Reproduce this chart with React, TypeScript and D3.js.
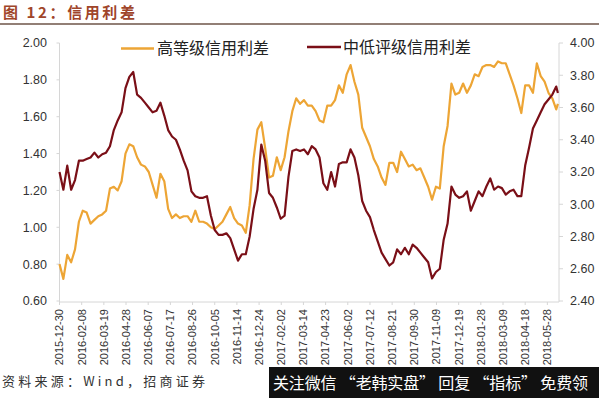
import React from "react";
import * as d3 from "d3";

const dates = [
  "2015-12-30","2016-01-06","2016-01-13","2016-01-20","2016-01-27","2016-02-03","2016-02-10","2016-02-17","2016-02-24","2016-03-02",
  "2016-03-09","2016-03-16","2016-03-23","2016-03-30","2016-04-06","2016-04-13","2016-04-20","2016-04-27","2016-05-04","2016-05-11",
  "2016-05-18","2016-05-25","2016-06-01","2016-06-08","2016-06-15","2016-06-22","2016-06-29","2016-07-06","2016-07-13","2016-07-20",
  "2016-07-27","2016-08-03","2016-08-10","2016-08-17","2016-08-24","2016-08-31","2016-09-07","2016-09-14","2016-09-21","2016-09-28",
  "2016-10-05","2016-10-12","2016-10-19","2016-10-26","2016-11-02","2016-11-09","2016-11-16","2016-11-23","2016-11-30","2016-12-07",
  "2016-12-14","2016-12-21","2016-12-28","2017-01-04","2017-01-11","2017-01-18","2017-01-25","2017-02-01","2017-02-08","2017-02-15",
  "2017-02-22","2017-03-01","2017-03-08","2017-03-15","2017-03-22","2017-03-29","2017-04-05","2017-04-12","2017-04-19","2017-04-26",
  "2017-05-03","2017-05-10","2017-05-17","2017-05-24","2017-05-31","2017-06-07","2017-06-14","2017-06-21","2017-06-28","2017-07-05",
  "2017-07-12","2017-07-19","2017-07-26","2017-08-02","2017-08-09","2017-08-16","2017-08-23","2017-08-30","2017-09-06","2017-09-13",
  "2017-09-20","2017-09-27","2017-10-04","2017-10-11","2017-10-18","2017-10-25","2017-11-01","2017-11-08","2017-11-15","2017-11-22",
  "2017-11-29","2017-12-06","2017-12-13","2017-12-20","2017-12-27","2018-01-03","2018-01-10","2018-01-17","2018-01-24","2018-01-31",
  "2018-02-07","2018-02-14","2018-02-21","2018-02-28","2018-03-07","2018-03-14","2018-03-21","2018-03-28","2018-04-04","2018-04-11",
  "2018-04-18","2018-04-25","2018-05-02","2018-05-09","2018-05-16","2018-05-23","2018-05-30","2018-06-06","2018-06-13","2018-06-16",
];

// 高等级信用利差 (left axis)
const highGrade = [
  0.80,0.72,0.85,0.81,0.88,1.03,1.09,1.08,1.02,1.04,
  1.06,1.07,1.09,1.21,1.22,1.20,1.25,1.40,1.45,1.44,
  1.38,1.34,1.33,1.30,1.23,1.16,1.29,1.25,1.10,1.05,
  1.07,1.05,1.06,1.06,1.03,1.09,1.03,1.03,1.02,1.00,
  0.99,1.01,1.03,1.07,1.11,1.05,1.02,1.01,0.97,1.12,
  1.37,1.53,1.57,1.43,1.27,1.28,1.38,1.31,1.38,1.52,
  1.63,1.70,1.67,1.69,1.66,1.66,1.63,1.58,1.57,1.66,
  1.66,1.69,1.77,1.73,1.83,1.88,1.79,1.72,1.54,1.49,
  1.44,1.37,1.33,1.27,1.23,1.35,1.35,1.30,1.41,1.37,
  1.33,1.34,1.31,1.32,1.27,1.22,1.15,1.22,1.21,1.44,
  1.55,1.78,1.72,1.73,1.78,1.73,1.77,1.83,1.82,1.87,
  1.88,1.88,1.87,1.90,1.89,1.89,1.83,1.77,1.70,1.62,
  1.77,1.77,1.73,1.89,1.82,1.79,1.73,1.70,1.64,1.67,
];

// 中低评级信用利差 (right axis)
const lowGrade = [
  3.20,3.09,3.24,3.09,3.15,3.27,3.27,3.28,3.29,3.32,
  3.29,3.31,3.32,3.36,3.46,3.52,3.57,3.72,3.79,3.82,
  3.68,3.66,3.63,3.60,3.57,3.58,3.63,3.55,3.46,3.42,
  3.40,3.34,3.27,3.21,3.08,3.05,3.04,3.04,3.05,2.93,
  2.84,2.81,2.81,2.82,2.79,2.72,2.65,2.69,2.69,2.80,
  2.97,3.09,3.37,3.27,3.07,3.04,2.98,2.91,2.93,3.17,
  3.33,3.34,3.33,3.34,3.31,3.36,3.34,3.29,3.13,3.09,
  3.20,3.11,3.25,3.26,3.26,3.34,3.29,3.18,3.02,2.96,
  2.92,2.84,2.77,2.70,2.66,2.62,2.64,2.72,2.69,2.73,
  2.69,2.75,2.73,2.70,2.67,2.64,2.54,2.58,2.60,2.78,
  2.88,3.11,3.06,3.04,3.05,3.08,2.96,3.02,3.08,3.05,
  3.11,3.16,3.09,3.11,3.10,3.06,3.08,3.09,3.05,3.05,
  3.24,3.35,3.47,3.52,3.57,3.62,3.65,3.68,3.73,3.69,
];

const xTickLabels = [
  "2015-12-30","2016-02-08","2016-03-19","2016-04-28","2016-06-07","2016-07-17","2016-08-26","2016-10-05",
  "2016-11-14","2016-12-24","2017-02-02","2017-03-14","2017-04-23","2017-06-02","2017-07-12","2017-08-21",
  "2017-09-30","2017-11-09","2017-12-19","2018-01-28","2018-03-09","2018-04-18","2018-05-28",
];
const leftTicks = [0.6, 0.8, 1.0, 1.2, 1.4, 1.6, 1.8, 2.0];
const rightTicks = [2.4, 2.6, 2.8, 3.0, 3.2, 3.4, 3.6, 3.8, 4.0];

const title = "图 12：信用利差";
const legendHigh = "高等级信用利差";
const legendLow = "中低评级信用利差";
const source = "资料来源：Wind，招商证券";
const banner = "关注微信 “老韩实盘” 回复 “指标” 免费领";

const ORANGE = "#EDA535";
const DARKRED = "#7A0F17";

export default function App() {
  const W = 599, H = 398;
  const left = 59.5, right = 559, top = 43, bottom = 301;
  const parse = d3.timeParse("%Y-%m-%d");
  const x = d3.scaleTime().domain([parse("2015-12-30")!, parse("2018-06-18")!]).range([left, right]);
  const yL = d3.scaleLinear().domain([0.6, 2.0]).range([bottom, top]);
  const yR = d3.scaleLinear().domain([2.4, 4.0]).range([bottom, top]);
  const parsed = dates.map((d) => parse(d)!);
  const lineHigh = d3.line<number>().x((_, i) => x(parsed[i])).y((v) => yL(v))(highGrade) || "";
  const lineLow = d3.line<number>().x((_, i) => x(parsed[i])).y((v) => yR(v))(lowGrade) || "";
  const font = "'Liberation Sans', Arial, sans-serif";
  const cjk = "'Noto Sans CJK SC', sans-serif";

  return (
    <div style={{ position: "fixed", left: 0, top: 0, width: W, height: H, background: "#fff" }}>
      <svg width={W} height={H} style={{ display: "block" }}>
        <rect x={0} y={0} width={W} height={H} fill="#fff" />
        {/* title */}
        <text x={3} y={18} fill="#A0452A" fontFamily={cjk} fontWeight="bold" fontSize={15} textLength={132} lengthAdjust="spacing">{title}</text>
        <line x1={0} x2={W} y1={24} y2={24} stroke="#6E5548" strokeWidth={1.5} />

        {/* axes */}
        <line x1={left} x2={left} y1={top} y2={bottom + 1} stroke="#D6D6D6" />
        <line x1={right} x2={right} y1={top} y2={bottom + 1} stroke="#D6D6D6" />
        <line x1={left} x2={right} y1={bottom + 1} y2={bottom + 1} stroke="#D6D6D6" />

        {leftTicks.map((t) => (
          <g key={"l" + t}>
            <line x1={left - 3} x2={left} y1={yL(t)} y2={yL(t)} stroke="#D6D6D6" />
            <text x={47} y={yL(t)} dy="0.35em" textAnchor="end" fontFamily={font} fontSize={12.5} fill="#333">
              {t.toFixed(2)}
            </text>
          </g>
        ))}
        {rightTicks.map((t) => (
          <g key={"r" + t}>
            <line x1={right} x2={right + 4} y1={yR(t)} y2={yR(t)} stroke="#D6D6D6" />
            <text x={570} y={yR(t)} dy="0.35em" textAnchor="start" fontFamily={font} fontSize={12.5} fill="#333">
              {t.toFixed(2)}
            </text>
          </g>
        ))}
        {xTickLabels.map((d) => {
          const xx = x(parse(d)!);
          return (
            <g key={d}>
              <line x1={xx} x2={xx} y1={bottom + 1} y2={bottom + 4} stroke="#D6D6D6" />
              <text
                transform={`translate(${xx},${309}) rotate(-90)`}
                dy="0.35em"
                textAnchor="end"
                fontFamily={font}
                fontSize={11}
                fill="#333"
              >
                {d}
              </text>
            </g>
          );
        })}

        {/* series */}
        <path d={lineHigh} fill="none" stroke={ORANGE} strokeWidth={2.2} strokeLinejoin="round" />
        <path d={lineLow} fill="none" stroke={DARKRED} strokeWidth={2.2} strokeLinejoin="round" />

        {/* legend */}
        <line x1={121} x2={154} y1={48.5} y2={48.5} stroke={ORANGE} strokeWidth={2.5} />
        <text x={157} y={48.5} dy="0.36em" fontFamily={cjk} fontSize={16} fill="#222">{legendHigh}</text>
        <line x1={307} x2={341} y1={47} y2={47} stroke={DARKRED} strokeWidth={2.5} />
        <text x={343} y={47} dy="0.36em" fontFamily={cjk} fontSize={16} fill="#222">{legendLow}</text>

        {/* source */}
        <text x={2} y={386} fontFamily={cjk} fontSize={13} fill="#333" textLength={203} lengthAdjust="spacing">{source}</text>

        {/* banner */}
        <rect x={269} y={367} width={W - 269} height={H - 367} fill="#111" />
        <text x={273} y={383} dy="0.36em" fontFamily={cjk} fontSize={16} fill="#fff" textLength={315} lengthAdjust="spacing">
          {banner}
        </text>
      </svg>
    </div>
  );
}
